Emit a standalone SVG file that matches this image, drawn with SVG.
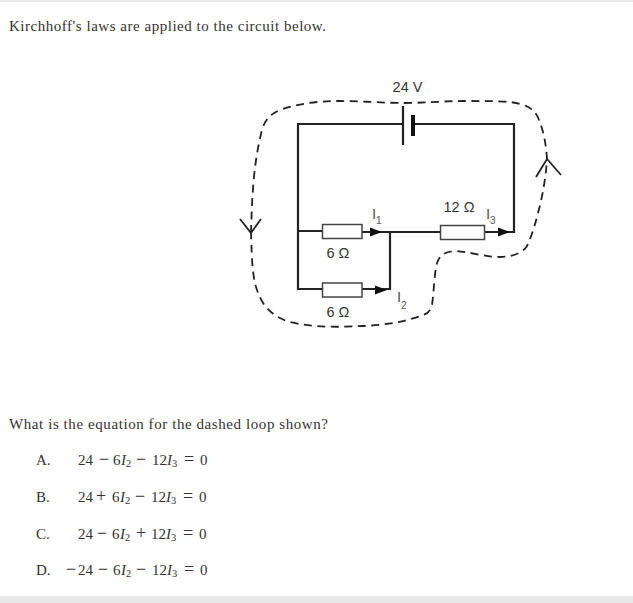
<svg xmlns="http://www.w3.org/2000/svg" width="633" height="603" viewBox="0 0 633 603">
<style>
.t{font-family:"Liberation Serif","Times New Roman",serif;font-size:15px;fill:#333}
.m{font-family:"Liberation Serif","Times New Roman",serif;font-size:15px;fill:#333}
.i{font-style:italic}
.s{font-size:10.5px}
.o{font-size:18px}
.c{font-family:"Liberation Sans",Arial,sans-serif;font-size:14.500px;fill:#333}
.l{font-family:"Liberation Sans",Arial,sans-serif;font-size:15px;fill:#555}
.ls{font-family:"Liberation Sans",Arial,sans-serif;font-size:10px;fill:#555}
.w{fill:none;stroke:#222;stroke-width:2.200}
.r{fill:#fff;stroke:#444;stroke-width:1.500}
.d{fill:none;stroke:#222;stroke-width:1.800;stroke-dasharray:8 5.500}
.a{fill:none;stroke:#222;stroke-width:1.800}
</style>
<defs>
<path id="head" d="M0 -4.500 L12 0 L0 4.500 Z" fill="#111"/>
</defs>
<rect width="633" height="603" fill="#fff"/>
<rect width="633" height="2" fill="#e8e8e8"/>
<rect y="596" width="633" height="7" fill="#e8e8e8"/>
<text class="t" x="9" y="31" textLength="317" lengthAdjust="spacing">Kirchhoff's laws are applied to the circuit below.</text>
<text class="t" x="9" y="429" textLength="319" lengthAdjust="spacing">What is the equation for the dashed loop shown?</text>

<g id="connectors">
<path class="w" d="M403 124H298V289H322M298 231H322M362 232H440M484 232H514V124H413M362 289H390V232"/>
<path class="d" d="M251 233C252 200 253 165 262 130C265 120 270 114 280 110C300 103 320 101 340 101C360 101 385 103 403 103C425 103 445 101 463 101C480 101 497 101 510 102C525 104 535 108 539 120C544 132 546 145 547 159C546 175 543 195 538 213C535 225 532 235 527 246C522 254 510 257 500 257C485 257 470 252 457 251C447 251 440 254 437 263C434 275 434 292 432 305C430 312 427 314 423 315C405 322 385 325 363 326C340 327 315 328 290 322C275 318 264 308 259 295C252 280 252 260 251 233"/>
<path class="a" d="M240 219L251 233L261 219"/>
<path class="a" d="M536 177L547 159L561 175"/>
<use href="#head" x="370" y="232"/>
<use href="#head" x="375" y="290"/>
<use href="#head" x="498" y="232"/>
</g>

<g id="battery">
<path d="M403 106V145" stroke="#222" stroke-width="2.200" fill="none"/>
<path d="M413 115V136" stroke="#111" stroke-width="4" fill="none"/>
<text class="c" x="407.500" y="92" text-anchor="middle">24 V</text>
</g>
<g id="r1">
<rect class="r" x="322.500" y="224.500" width="39.500" height="14"/>
<text class="c" x="338" y="258" text-anchor="middle">6 Ω</text>
</g>
<g id="r2">
<rect class="r" x="322.500" y="283" width="39.500" height="14"/>
<text class="c" x="338" y="317" text-anchor="middle">6 Ω</text>
</g>
<g id="r3">
<rect class="r" x="440.500" y="225.500" width="44" height="14"/>
<text class="c" x="459" y="212" text-anchor="middle">12 Ω</text>
</g>
<g id="currents">
<text class="l" x="372" y="219">I</text><text class="ls" x="376" y="224">1</text>
<text class="l" x="486" y="219">I</text><text class="ls" x="490" y="224">3</text>
<text class="l" x="397" y="302">I</text><text class="ls" x="401" y="309">2</text>
</g>

<g id="option-a">
<text class="t" x="36" y="465">A.</text>
<text class="m" y="465"><tspan x="78">24</tspan><tspan class="o" x="99">−</tspan><tspan x="113">6</tspan><tspan class="i" x="121">I</tspan><tspan class="s" x="126" dy="2">2</tspan><tspan class="o" x="136" dy="-2">−</tspan><tspan x="152">12</tspan><tspan class="i" x="167">I</tspan><tspan class="s" x="172" dy="2">3</tspan><tspan class="o" x="184" dy="-2">=</tspan><tspan x="200">0</tspan></text>
</g>
<g id="option-b">
<text class="t" x="36" y="502">B.</text>
<text class="m" y="502"><tspan x="78">24</tspan><tspan class="o" x="96">+</tspan><tspan x="112">6</tspan><tspan class="i" x="120">I</tspan><tspan class="s" x="125" dy="2">2</tspan><tspan class="o" x="135" dy="-2">−</tspan><tspan x="151">12</tspan><tspan class="i" x="166">I</tspan><tspan class="s" x="171" dy="2">3</tspan><tspan class="o" x="183" dy="-2">=</tspan><tspan x="199">0</tspan></text>
</g>
<g id="option-c">
<text class="t" x="36" y="539">C.</text>
<text class="m" y="539"><tspan x="78">24</tspan><tspan class="o" x="97">−</tspan><tspan x="112">6</tspan><tspan class="i" x="120">I</tspan><tspan class="s" x="125" dy="2">2</tspan><tspan class="o" x="136" dy="-2">+</tspan><tspan x="151">12</tspan><tspan class="i" x="166">I</tspan><tspan class="s" x="171" dy="2">3</tspan><tspan class="o" x="183" dy="-2">=</tspan><tspan x="199">0</tspan></text>
</g>
<g id="option-d">
<text class="t" x="36" y="575">D.</text>
<text class="m" y="575"><tspan class="o" x="66">−</tspan><tspan x="78">24</tspan><tspan class="o" x="98">−</tspan><tspan x="113">6</tspan><tspan class="i" x="121">I</tspan><tspan class="s" x="126" dy="2">2</tspan><tspan class="o" x="136" dy="-2">−</tspan><tspan x="152">12</tspan><tspan class="i" x="167">I</tspan><tspan class="s" x="172" dy="2">3</tspan><tspan class="o" x="184" dy="-2">=</tspan><tspan x="200">0</tspan></text>
</g>
</svg>
